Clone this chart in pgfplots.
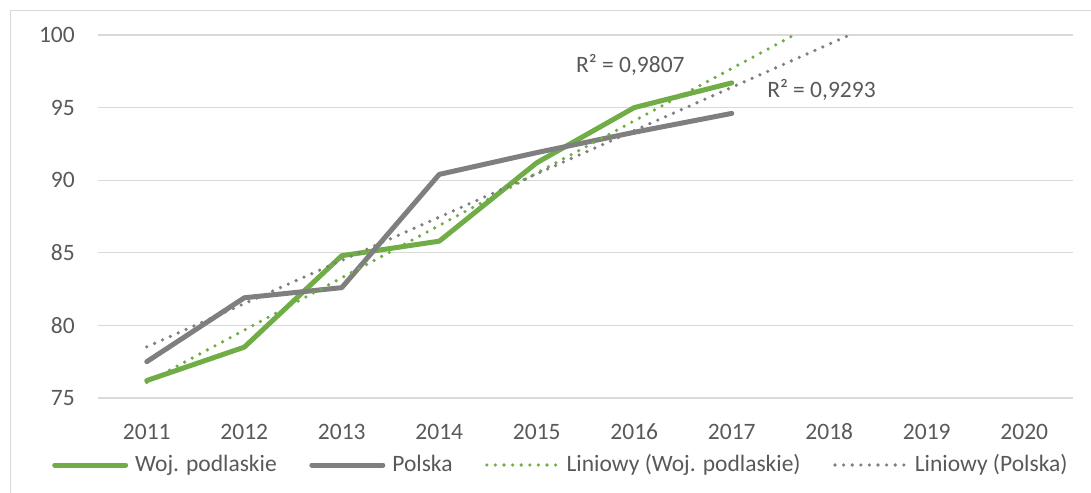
\documentclass[border=0pt]{standalone}
\usepackage{fontspec}
\setmainfont{Carlito}
\usepackage{pgfplots}
\pgfplotsset{compat=1.18}
\definecolor{cgreen}{HTML}{70AD47}
\definecolor{cgray}{HTML}{7F7F7F}
\definecolor{ctext}{HTML}{595959}
\definecolor{cgrid}{HTML}{D9D9D9}
\newcommand\chartfont{\fontsize{23.5bp}{28bp}\selectfont}
\begin{document}
\chartfont
\begin{tikzpicture}[x=1bp,y=1bp]
\path[use as bounding box] (0,0) rectangle (1091,493);
\draw[cgrid, line width=1.2bp] (10.7,0) -- (10.7,482.3) -- (1091,482.3);
\begin{axis}[
  at={(98bp,95bp)}, anchor=south west,
  scale only axis, width=975bp, height=363bp,
  xmin=2010.5, xmax=2020.5, ymin=75, ymax=100,
  xtick={2011,2012,2013,2014,2015,2016,2017,2018,2019,2020},
  xticklabels={2011,2012,2013,2014,2015,2016,2017,2018,2019,2020},
  ytick={75,80,85,90,95,100},
  major tick length=0pt,
  axis line style={draw=none},
  ymajorgrids, grid style={cgrid, line width=1.2bp},
  /pgf/number format/assume math mode=true,
  tick label style={font=\chartfont, text=ctext},
  xticklabel style={anchor=base, inner sep=0pt, yshift=-42bp},
  yticklabel style={anchor=east, inner sep=0pt, xshift=-23bp},
  clip=true,
  legend columns=4,
  legend style={at={(-0.0472,-0.1846)}, anchor=west, draw=none, fill=none,
    inner sep=0pt, font=\chartfont, text=ctext,
    nodes={inner sep=0pt},
    /tikz/every odd column/.append style={column sep=7bp},
    /tikz/every even column/.append style={column sep=32.5bp}},
  legend cell align=left,
  legend image code/.code={\draw[#1] (0bp,0bp) -- (71bp,0bp);},
]
\addplot[cgreen, line width=5bp, line cap=round, line join=round] coordinates {
  (2011,76.2) (2012,78.5) (2013,84.8) (2014,85.8) (2015,91.2) (2016,95.0) (2017,96.7)};
\addlegendentry{Woj. podlaskie}
\addplot[cgray, line width=5bp, line cap=round, line join=round] coordinates {
  (2011,77.5) (2012,81.9) (2013,82.6) (2014,90.4) (2015,91.9) (2016,93.3) (2017,94.6)};
\addlegendentry{Polska}
\addplot[cgreen, line width=3.6bp, line cap=round, dash pattern=on 0bp off 8.6bp] coordinates {
  (2011,76.07) (2017.64,100)};
\addlegendentry{Liniowy (Woj. podlaskie)}
\addplot[cgray, line width=3.6bp, line cap=round, dash pattern=on 0bp off 8.6bp] coordinates {
  (2011,78.52) (2018.21,100)};
\addlegendentry{Liniowy (Polska)}
\node[text=ctext, inner sep=0pt] at (axis cs:2015.96,97.93) {R² = 0,9807};
\node[text=ctext, inner sep=0pt] at (axis cs:2017.92,96.21) {R² = 0,9293};
\end{axis}
\end{tikzpicture}
\end{document}
